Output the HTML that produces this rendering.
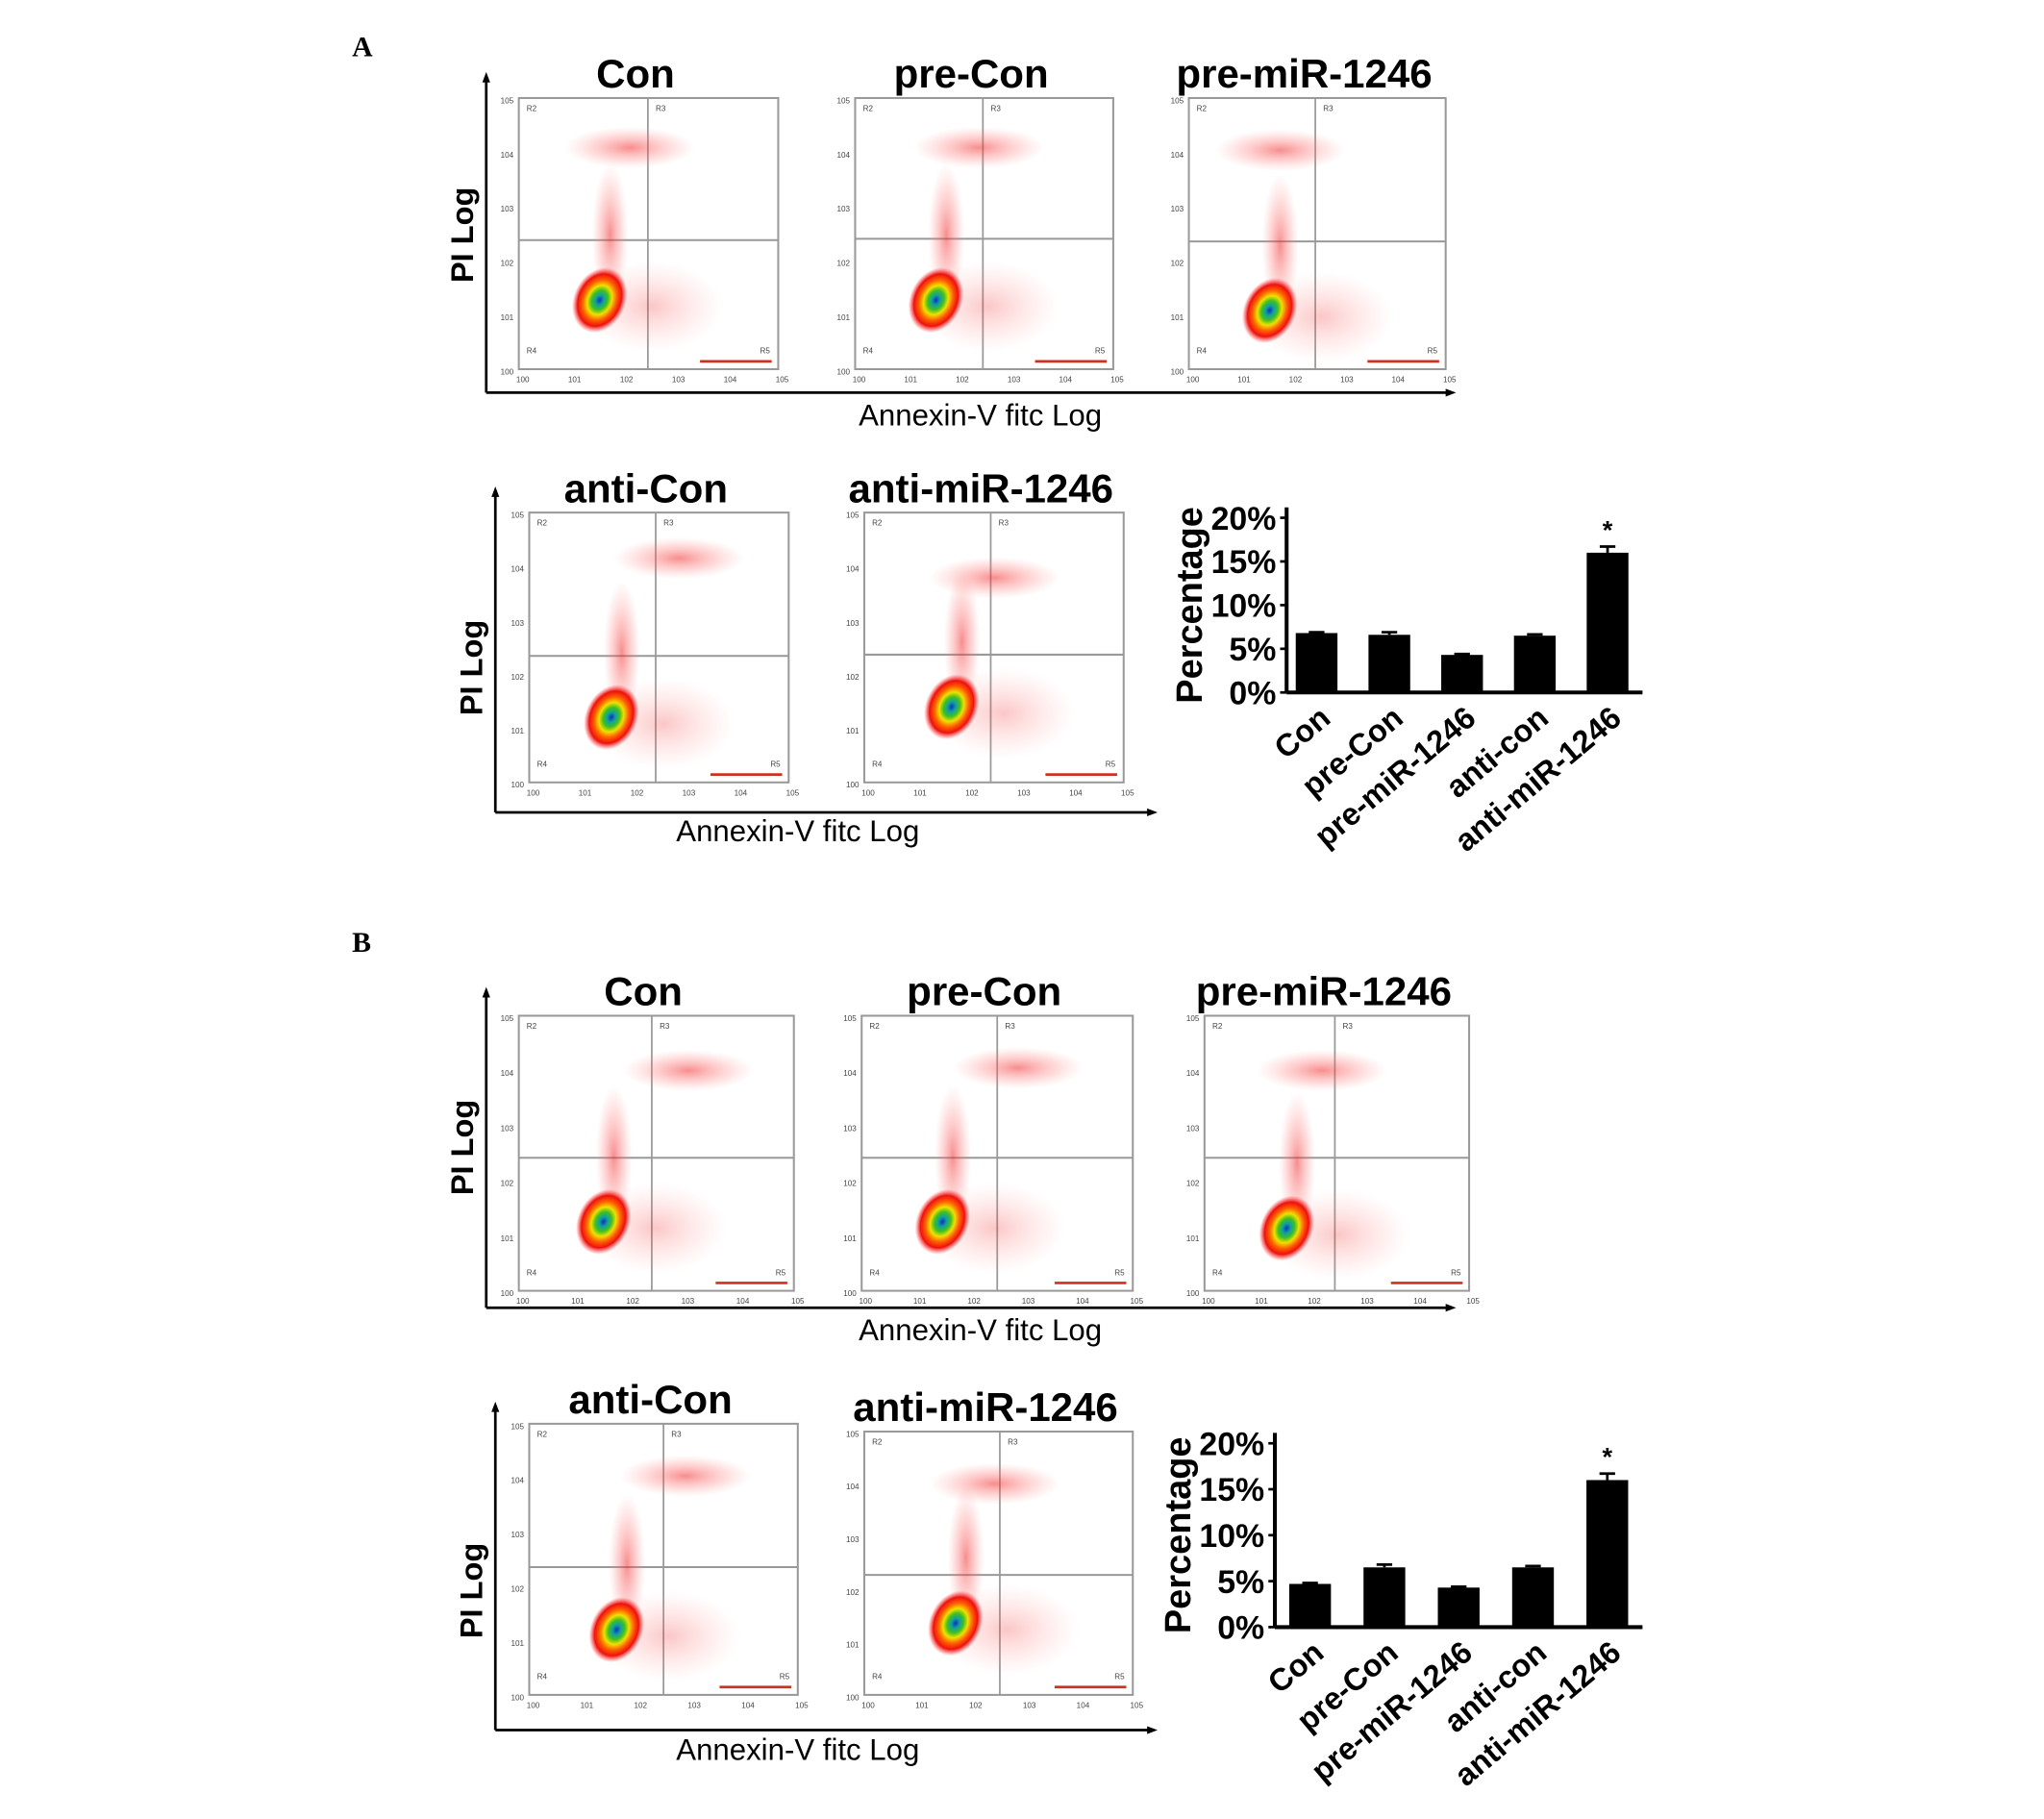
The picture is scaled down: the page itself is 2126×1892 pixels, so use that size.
<!DOCTYPE html>
<html><head><meta charset="utf-8"><style>
html,body{margin:0;padding:0;background:#fff}
svg{display:block}
text{font-family:"Liberation Sans",Arial,sans-serif}
</style></head><body>
<svg id="fig" width="2126" height="1892" viewBox="0 0 1568 1395" xmlns="http://www.w3.org/2000/svg">
<defs>
<radialGradient id="core" cx="50%" cy="50%" r="50%">
<stop offset="0" stop-color="#1030c0"/><stop offset="0.15" stop-color="#10a0a0"/><stop offset="0.3" stop-color="#40c020"/><stop offset="0.45" stop-color="#f0e000"/><stop offset="0.62" stop-color="#ff6000"/><stop offset="0.8" stop-color="#ee1010"/><stop offset="1" stop-color="#ff4040" stop-opacity="0"/>
</radialGradient>
<radialGradient id="haze" cx="50%" cy="50%" r="50%">
<stop offset="0" stop-color="#f03030" stop-opacity="0.55"/><stop offset="0.6" stop-color="#ff7070" stop-opacity="0.25"/><stop offset="1" stop-color="#ff9090" stop-opacity="0"/>
</radialGradient>
</defs>
<text x="270" y="43" font-family="Liberation Serif,serif" font-weight="bold" font-size="22" style="font-family:'Liberation Serif',serif">A</text>
<text x="270" y="730" font-weight="bold" font-size="22" style="font-family:'Liberation Serif',serif">B</text>
<g id="flows"></g>
<g id="bars"></g>
</svg>
<script>
const NS="http://www.w3.org/2000/svg";
function mk(p,tag,a,txt){const e=document.createElementNS(NS,tag);for(const k in a)e.setAttribute(k,a[k]);if(txt!==undefined)e.textContent=txt;p.appendChild(e);return e;}
const flows=document.getElementById('flows');
// panel: title, box l,t,r,b, vertical gate x, horizontal gate y, main cluster rel (dx from left, dy from bottom), upper cluster rel
const panels=[
["Con",398,75,597,283,497,184,62,53,95,128],
["pre-Con",656,75,854,283,754,183,62,53,105,128],
["pre-miR-1246",912,75,1109,283,1009,185,62,45,80,130],
["anti-Con",406,393,605,600,503,503,63,50,125,125],
["anti-miR-1246",663,393,862,600,760,502,67,58,110,140],
["Con",398,779,609,990,500,888,65,53,140,132],
["pre-Con",661,779,869,990,765,888,62,53,130,130],
["pre-miR-1246",924,779,1127,990,1024,888,63,48,100,132],
["anti-Con",406,1092,612,1300,509,1202,67,50,130,130],
["anti-miR-1246",663,1098,869,1300,767,1208,70,55,110,130]
];
panels.forEach((p,i)=>{
 const [title,l,t,r,b,vx,hy,mx,my,ux,uy]=p;
 const g=mk(flows,'g',{});
 
 
 const tt=mk(g,'text',{x:(l+r)/2-10,y:t-8,'text-anchor':'middle','font-size':31,'font-weight':'bold'},title);
 
 
 mk(g,'rect',{x:l,y:t,width:r-l,height:b-t,fill:'none',stroke:'#999','stroke-width':1.5});
 mk(g,'line',{x1:vx,y1:t,x2:vx,y2:b,stroke:'#999','stroke-width':1.3});
 mk(g,'line',{x1:l,y1:hy,x2:r,y2:hy,stroke:'#999','stroke-width':1.5});
 // haze
 mk(g,'ellipse',{cx:l+ux-10,cy:t+uy-90,rx:50,ry:16,fill:'url(#haze)'});
 mk(g,'ellipse',{cx:l+mx+8,cy:b-my-50,rx:14,ry:55,fill:'url(#haze)'});
 mk(g,'ellipse',{cx:l+mx+40,cy:b-my+5,rx:55,ry:35,fill:'url(#haze)',opacity:0.5});
 mk(g,'ellipse',{cx:l+mx,cy:b-my,rx:20,ry:26,fill:'url(#core)',transform:`rotate(25 ${l+mx} ${b-my})`});
 mk(g,'line',{x1:r-60,y1:b-6,x2:r-5,y2:b-6,stroke:'#d03020','stroke-width':2});
 // small labels
 ['R2','R3','R4','R5'].forEach((s,k)=>{
  const xs=[l+6,vx+6,l+6,r-14],ys=[t+10,t+10,b-12,b-12];
  mk(g,'text',{x:xs[k],y:ys[k],'font-size':6,fill:'#444'},s);
 });
 for(let k=0;k<6;k++){
  mk(g,'text',{x:l-14,y:t+4+k*(b-t)/5,'font-size':6,fill:'#444'},'10'+(5-k));
  mk(g,'text',{x:l-2+k*(r-l)/5,y:b+10,'font-size':6,fill:'#444'},'10'+k);
 }
});
// axes groups: yx, ytop, ybot, xend, PI label pos, annexin pos
const axes=[[373,55,301,1117,355,180,752,318],[380,373,623,888,362,512,612,637],[373,757,1003,1117,355,880,752,1020],[380,1075,1327,888,362,1220,612,1342]];
axes.forEach((a,i)=>{
 const [x,yt,yb,xe,px,py,ax,ay]=a;
 const g=mk(flows,'g',{});
 
 
 mk(g,'line',{x1:x,y1:yb,x2:x,y2:yt+6,stroke:'#000','stroke-width':2});
 mk(g,'polygon',{points:`${x-3},${yt+8} ${x+3},${yt+8} ${x},${yt}`,fill:'#000'});
 mk(g,'line',{x1:x,y1:yb,x2:xe-6,y2:yb,stroke:'#000','stroke-width':2});
 mk(g,'polygon',{points:`${xe-8},${yb-3} ${xe-8},${yb+3} ${xe},${yb}`,fill:'#000'});
 const pl=mk(g,'text',{x:px,y:py,'font-size':24,'font-weight':'bold','text-anchor':'middle',transform:`rotate(-90 ${px} ${py})`,dy:8},'PI Log');
 
 
 const al=mk(g,'text',{x:ax,y:ay+8,'font-size':23,'text-anchor':'middle'},'Annexin-V fitc Log');
 
 
});
// bar charts data
const categories=["Con","pre-Con","pre-miR-1246","anti-con","anti-miR-1246"];
const valuesA=[6.8,6.6,4.3,6.5,16.0];
const errorsA=[0.1,0.3,0.1,0.15,0.7];
const valuesB=[4.7,6.5,4.3,6.5,16.0];
const errorsB=[0.1,0.3,0.1,0.15,0.7];
const ticks=[0,5,10,15,20];
const tickLabels=["0%","5%","10%","15%","20%"];
const bars=document.getElementById('bars');
function barChart(name,vals,errs,ax,y0,y20,xEnd,c0,step){
 const g=mk(bars,'g',{});
 
 
 const ys=v=>y0-(y0-y20)*v/20;
 const xs=i=>c0+i*step;
 mk(g,'line',{x1:ax,y1:y20-8,x2:ax,y2:y0,stroke:'#000','stroke-width':3});
 mk(g,'line',{x1:ax,y1:y0,x2:xEnd,y2:y0,stroke:'#000','stroke-width':3});
 ticks.forEach((t,k)=>{
  mk(g,'line',{x1:ax-5,y1:ys(t),x2:ax,y2:ys(t),stroke:'#000','stroke-width':2});
  const tl=mk(g,'text',{x:ax-8,y:ys(t)+9,'text-anchor':'end','font-size':25,'font-weight':'bold'},tickLabels[k]);
  
  
 });
 const yl=mk(g,'text',{x:ax-75,y:(y0+y20)/2,'text-anchor':'middle','font-size':28,'font-weight':'bold',transform:`rotate(-90 ${ax-75} ${(y0+y20)/2})`,dy:10},'Percentage');
 
 
 vals.forEach((v,i)=>{
  const x=xs(i),w=32;
  const r=mk(g,'rect',{x:x-w/2,y:ys(v),width:w,height:y0-ys(v),fill:'#000'});
  
  
  const e=errs[i];
  mk(g,'line',{x1:x,y1:ys(v),x2:x,y2:ys(v+e),stroke:'#000','stroke-width':2});
  mk(g,'line',{x1:x-6,y1:ys(v+e),x2:x+6,y2:ys(v+e),stroke:'#000','stroke-width':2});
  const lb=mk(g,'text',{x:x+12,y:y0+22,'text-anchor':'end','font-size':24,'font-weight':'bold',transform:`rotate(-40 ${x+12} ${y0+22})`},categories[i]);
  
  
  if(v>12){const s=mk(g,'text',{x:x,y:ys(v+e)-6,'text-anchor':'middle','font-size':20,'font-weight':'bold'},'*');
   
   }
 });
}
barChart('bar-chart-a',valuesA,errorsA,987,531,397,1260,1010,55.8);
barChart('bar-chart-b',valuesB,errorsB,978,1248,1107,1260,1005,57);
</script>
</body></html>
